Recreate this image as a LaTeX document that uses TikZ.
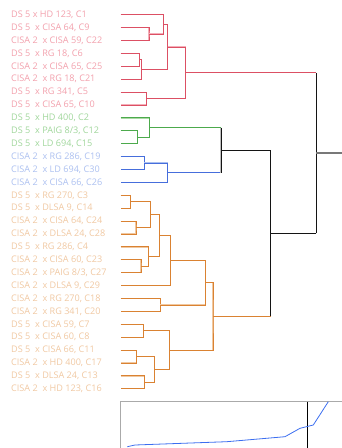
\documentclass[tikz,border=0pt]{standalone}
\usepackage{fontspec}
\setmainfont{Open Sans}
\begin{document}
\begin{tikzpicture}[x=1pt,y=-1pt,
  lbl/.style={anchor=west,inner sep=0pt,font=\fontsize{9.1}{11}\selectfont},
  redD/.style={draw={rgb,255:red,220;green,80;blue,100},line width=0.9pt},
  redL/.style={draw={rgb,255:red,244;green,175;blue,185},line width=1.2pt},
  grnD/.style={draw={rgb,255:red,76;green,170;blue,76},line width=0.9pt},
  grnL/.style={draw={rgb,255:red,170;green,218;blue,165},line width=1.2pt},
  bluD/.style={draw={rgb,255:red,70;green,110;blue,220},line width=0.9pt},
  bluL/.style={draw={rgb,255:red,170;green,192;blue,240},line width=1.2pt},
  ornD/.style={draw={rgb,255:red,218;green,130;blue,50},line width=0.9pt},
  ornL/.style={draw={rgb,255:red,240;green,200;blue,160},line width=1.2pt},
  blkD/.style={draw={rgb,255:red,20;green,20;blue,20},line width=0.9pt},
  blkL/.style={draw={rgb,255:red,190;green,190;blue,190},line width=1.2pt},
  redT/.style={text={rgb,255:red,242;green,160;blue,172}},
  grnT/.style={text={rgb,255:red,160;green,214;blue,155}},
  bluT/.style={text={rgb,255:red,172;green,192;blue,240}},
  ornT/.style={text={rgb,255:red,240;green,200;blue,162}},
]
\useasboundingbox (0,0) rectangle (342,448);
\clip (0,0) rectangle (342,448);
% leaves
\def\lx{11}\def\ex{120.7}
\foreach \i/\t/\s in {1/{DS 5 x HD 123, C1}/redT,
 2/{DS 5\ \ x CISA 64, C9}/redT,
 3/{CISA 2\ \ x CISA 59, C22}/redT,
 4/{DS 5\ \ x RG 18, C6}/redT,
 5/{CISA 2\ \ x CISA 65, C25}/redT,
 6/{CISA 2\ \ x RG 18, C21}/redT,
 7/{DS 5\ \ x RG 341, C5}/redT,
 8/{DS 5\ \ x CISA 65, C10}/redT,
 9/{DS 5\ \ x HD 400, C2}/grnT,
 10/{DS 5\ \ x PAIG 8/3, C12}/grnT,
 11/{DS 5\ \ x LD 694, C15}/grnT,
 12/{CISA 2\ \ x RG 286, C19}/bluT,
 13/{CISA 2\ \ x LD 694, C30}/bluT,
 14/{CISA 2\ \ x CISA 66, C26}/bluT,
 15/{DS 5\ \ x RG 270, C3}/ornT,
 16/{DS 5\ \ x DLSA 9, C14}/ornT,
 17/{CISA 2\ \ x CISA 64, C24}/ornT,
 18/{CISA 2\ \ x DLSA 24, C28}/ornT,
 19/{DS 5\ \ x RG 286, C4}/ornT,
 20/{CISA 2\ \ x CISA 60, C23}/ornT,
 21/{CISA 2\ \ x PAIG 8/3, C27}/ornT,
 22/{CISA 2\ \ x DLSA 9, C29}/ornT,
 23/{CISA 2\ \ x RG 270, C18}/ornT,
 24/{CISA 2\ \ x RG 341, C20}/ornT,
 25/{DS 5\ \ x CISA 59, C7}/ornT,
 26/{DS 5\ \ x CISA 60, C8}/ornT,
 27/{DS 5\ \ x CISA 66, C11}/ornT,
 28/{CISA 2\ \ x HD 400, C17}/ornT,
 29/{DS 5\ \ x DLSA 24, C13}/ornT,
 30/{CISA 2\ \ x HD 123, C16}/ornT}
{
  \pgfmathsetmacro{\yy}{14.7+(\i-1)*12.9}
  \node[lbl,\s] (l\i) at (\lx,\yy) {\t};
  \coordinate (e\i) at (\ex,\yy);
}
% junctions
\coordinate (j1) at (149,34.05);
\coordinate (j2) at (163.3,24.4);
\coordinate (j3) at (139.7,59.85);
\coordinate (j4) at (141.7,69.5);
\coordinate (j5) at (167.7,46.95);
\coordinate (j6) at (146.3,98.55);
\coordinate (j7) at (185.7,72.75);
\coordinate (g1) at (137.3,137.25);
\coordinate (g2) at (149.3,127.6);
\coordinate (b1) at (144.3,163.05);
\coordinate (b2) at (167.3,172.7);
\coordinate (k1) at (221,150.15);
\coordinate (o1) at (130.3,201.75);
\coordinate (o2) at (136,227.55);
\coordinate (o3) at (150.3,214.65);
\coordinate (o4) at (141,266.25);
\coordinate (o5) at (148.7,256.6);
\coordinate (o6) at (159.3,235.6);
\coordinate (o7) at (170.3,260.6);
\coordinate (o8) at (160.3,304.95);
\coordinate (o9) at (205.7,282.8);
\coordinate (o10) at (143.3,330.75);
\coordinate (o11) at (136.3,356.55);
\coordinate (o12) at (144.3,382.35);
\coordinate (o13) at (154.7,369.45);
\coordinate (o14) at (169.3,350.1);
\coordinate (o15) at (213,316.45);
\coordinate (k2) at (270.7,233.3);
\coordinate (rt) at (316.3,153);
\coordinate (rend) at (342,153);
% drawing macros: light shifted copy, then dark
\newcommand\dnjoin[4]{%
  \begin{scope}[shift={(0.9,0.9)}]\draw[#1L] (#2) -| (#3) |- (#4);\end{scope}
  \draw[#1D] (#2) -| (#3) |- (#4);}
\newcommand\dnh[3]{%
  \begin{scope}[shift={(0.9,0.9)}]\draw[#1L] (#2) -- (#2 -| #3);\end{scope}
  \draw[#1D] (#2) -- (#2 -| #3);}
\newcommand\dnv[3]{%
  \begin{scope}[shift={(0.9,0.9)}]\draw[#1L] (#2 -| #3) -- (#3);\end{scope}
  \draw[#1D] (#2 -| #3) -- (#3);}
% red
\dnjoin{red}{e2}{j1}{e3}
\dnjoin{red}{e1}{j2}{j1}
\dnjoin{red}{e4}{j3}{e5}
\dnjoin{red}{j3}{j4}{e6}
\dnjoin{red}{j2}{j5}{j4}
\dnjoin{red}{e7}{j6}{e8}
\dnjoin{red}{j5}{j7}{j6}
% green
\dnjoin{grn}{e10}{g1}{e11}
\dnjoin{grn}{e9}{g2}{g1}
% blue
\dnjoin{blu}{e12}{b1}{e13}
\dnjoin{blu}{b1}{b2}{e14}
% orange
\dnjoin{orn}{e15}{o1}{e16}
\dnjoin{orn}{e17}{o2}{e18}
\dnjoin{orn}{o1}{o3}{o2}
\dnjoin{orn}{e20}{o4}{e21}
\dnjoin{orn}{e19}{o5}{o4}
\dnjoin{orn}{o3}{o6}{o5}
\dnjoin{orn}{o6}{o7}{e22}
\dnjoin{orn}{e23}{o8}{e24}
\dnjoin{orn}{o7}{o9}{o8}
\dnjoin{orn}{e25}{o10}{e26}
\dnjoin{orn}{e27}{o11}{e28}
\dnjoin{orn}{e29}{o12}{e30}
\dnjoin{orn}{o11}{o13}{o12}
\dnjoin{orn}{o10}{o14}{o13}
\dnjoin{orn}{o9}{o15}{o14}
% upper links
\dnh{grn}{g2}{k1}
\dnh{blu}{b2}{k1}
\dnv{blk}{g2}{k1}\dnv{blk}{b2}{k1}
\dnh{blk}{k1}{k2}
\dnh{orn}{o15}{k2}
\dnv{blk}{k1}{k2}\dnv{blk}{o15}{k2}
\dnh{red}{j7}{rt}
\dnh{blk}{k2}{rt}
\dnv{blk}{j7}{rt}\dnv{blk}{k2}{rt}
\draw[draw={rgb,255:red,120;green,120;blue,120},line width=1.1pt] (rt) -- (rend);
% bottom panel
\coordinate (p0) at (120.7,401.7);
\coordinate (p1) at (360,470);
\draw[draw={rgb,255:red,170;green,170;blue,170},line width=0.9pt] (p0) rectangle (p1);
\coordinate (cut0) at (307.3,401.7);
\coordinate (cut1) at (307.3,470);
\draw[line width=0.9pt] (cut0) -- (cut1);
\draw[draw={rgb,255:red,60;green,110;blue,240},line width=0.8pt]
  (127.3,446.7) -- (135,445) -- (226.7,441.7) -- (285,436.7) -- (300,428.3) -- (313.3,425) -- (328.3,401.7);
\end{tikzpicture}
\end{document}
